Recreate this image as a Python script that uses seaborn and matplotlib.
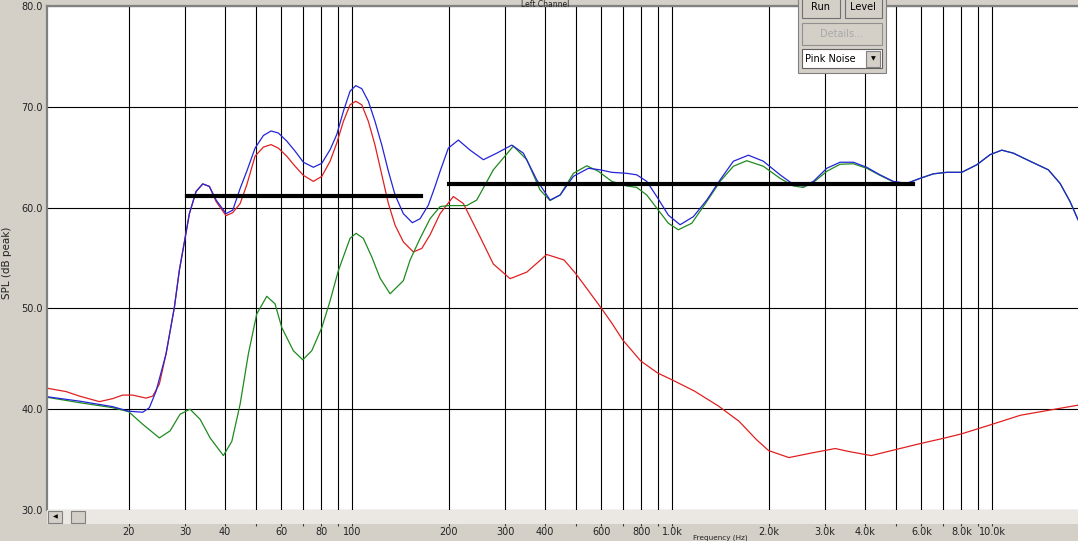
import numpy as np
import matplotlib
matplotlib.use("Agg")
import matplotlib.pyplot as plt
from matplotlib.patches import Rectangle
from matplotlib.ticker import FixedLocator, NullFormatter
import seaborn as sns

plt.rcParams['font.family'] = ['DejaVu Sans']

# measured SPL traces (Hz, dB)
blue_hz = [11.04, 14.03, 17.83, 20.0, 22.13, 23.21, 24.36, 26.17, 27.78, 28.80, 29.94, 30.95,
           32.48, 34.08, 35.74, 37.52, 40.30, 42.29, 44.59, 46.77, 49.65, 52.71, 55.70, 58.71,
           62.37, 66.22, 70.30, 75.53, 80.27, 85.20, 89.38, 93.73, 98.35, 102.47, 106.99, 112.2,
           117.7, 123.6, 129.6, 136.0, 144.3, 154.0, 162.8, 172.8, 181.3, 188.0,
           199.5, 214.4, 233.3, 256.7, 282.6, 314.9, 342.3, 376.9, 414.8, 445.9, 490.6, 546.5,
           594.4, 646.7, 720.1, 774.0, 831.8, 893.8, 971.6, 1057, 1163, 1281, 1410, 1551,
           1728, 1925, 2171, 2388, 2567, 2759, 3038, 3342, 3678, 4050, 4457, 4905, 5402,
           5943, 6540, 7203, 8025, 8940, 9836, 10700, 11630, 13120, 14960, 16280, 17490, 18520]
blue_db = [41.25, 40.8, 40.25, 39.8, 39.7, 40.15, 41.8, 45.5, 50.1, 53.8, 56.8, 59.4,
           61.6, 62.35, 62.1, 60.75, 59.4, 59.75, 61.9, 63.6, 65.9, 67.15, 67.6, 67.4,
           66.6, 65.6, 64.5, 64.0, 64.4, 65.75, 67.25, 69.55, 71.55, 72.1, 71.8, 70.55,
           68.55, 66.2, 63.6, 61.25, 59.4, 58.5, 58.9, 60.25, 62.1, 63.6,
           65.9, 66.7, 65.7, 64.75, 65.4, 66.2, 65.4, 62.75, 60.75, 61.25, 63.1, 63.9,
           63.75, 63.5, 63.4, 63.25, 62.6, 61.1, 59.25, 58.3, 59.1, 60.75, 62.75, 64.6,
           65.2, 64.6, 63.25, 62.3, 62.15, 62.6, 63.9, 64.5, 64.5, 64.0, 63.25, 62.6, 62.4,
           62.9, 63.35, 63.5, 63.5, 64.25, 65.25, 65.7, 65.4, 64.6, 63.75, 62.4, 60.6, 58.8]

green_hz = [11.04, 14.03, 17.83, 20.0, 22.13, 24.94, 26.94, 28.94, 31.10, 33.43, 35.93, 39.54,
            42.00, 44.59, 47.32, 50.26, 54.01, 57.33, 60.17, 65.4, 69.98, 74.67, 80.27, 85.20,
            90.41, 98.35, 102.7, 108.2, 115.0, 122.1, 131.2, 144.3, 151.5, 162.8, 174.9, 188.0,
            199.5, 227.8, 244.7, 275.8, 318.5,
            350.8, 386.0, 414.8, 445.9, 490.6, 540.2, 587.1, 646.7, 720.1, 774.0, 831.8, 893.8,
            971.6, 1044, 1150, 1281, 1410, 1551, 1708, 1925, 2171, 2388, 2567, 2759, 3038,
            3342, 3678, 4050, 4457, 4905, 5402, 5943, 6540, 7203, 8025, 8940, 9836, 10700,
            11630, 13120, 14960, 16280, 17490, 18520]
green_db = [41.2, 40.65, 40.15, 39.75, 38.5, 37.15, 37.85, 39.5, 40.0, 39.0, 37.15, 35.4,
            36.8, 40.5, 45.5, 49.45, 51.2, 50.45, 48.1, 45.8, 44.9, 45.8, 48.1, 50.75,
            53.75, 56.95, 57.45, 56.95, 55.1, 53.0, 51.45, 52.75, 54.8, 56.95, 58.9, 60.1,
            60.2, 60.2, 60.75, 63.75, 66.1,
            64.75, 61.75, 60.7, 61.25, 63.4, 64.15, 63.6, 62.6, 62.15, 62.0, 61.25, 59.95,
            58.45, 57.8, 58.45, 60.6, 62.6, 64.1, 64.65, 64.1, 62.9, 62.15, 62.0, 62.5, 63.6,
            64.3, 64.35, 63.9, 63.2, 62.55, 62.4, 62.9, 63.35, 63.5, 63.5, 64.25, 65.25, 65.7,
            65.4, 64.6, 63.75, 62.4, 60.6, 58.8]

red_hz = [11.04, 12.74, 14.03, 16.20, 17.83, 19.16, 20.59, 22.66, 23.78, 24.94, 26.17, 27.78,
          28.80, 29.94, 30.95, 32.48, 34.08, 35.74, 37.52, 40.30, 42.29, 44.59, 46.77, 49.65,
          52.71, 55.70, 58.71, 62.37, 66.22, 70.30, 75.53, 80.27, 85.20, 89.38, 93.73, 98.35,
          102.47, 106.99, 112.2, 117.7, 123.6, 129.6, 136.0, 144.3, 155.1, 164.8, 174.9, 188.0,
          206.8, 222.3, 250.6, 275.8, 311.1, 350.8, 405.0, 458.9,
          499.1, 545.3, 600.4, 648.1, 698.5, 795.5, 898.3, 1000, 1172, 1395, 1616, 1829,
          1998, 2313, 2716, 3228, 3564, 4183, 4997, 5970, 7007, 8007, 9979, 12240, 15680, 18520]
red_db = [42.1, 41.75, 41.3, 40.75, 41.05, 41.4, 41.4, 41.1, 41.3, 42.5, 45.5, 50.1,
          53.8, 56.8, 59.4, 61.6, 62.35, 62.1, 60.6, 59.2, 59.5, 60.4, 62.25, 65.1,
          66.0, 66.25, 65.9, 65.1, 64.1, 63.2, 62.6, 63.1, 64.6, 66.4, 68.55, 70.2,
          70.55, 70.2, 68.55, 66.2, 63.25, 60.4, 58.25, 56.6, 55.6, 55.95, 57.3, 59.4,
          61.1, 60.4, 57.1, 54.4, 52.95, 53.6, 55.35, 54.8,
          53.45, 51.8, 50.0, 48.5, 46.9, 44.8, 43.6, 42.9, 41.8, 40.3, 38.8, 37.0,
          35.9, 35.2, 35.65, 36.1, 35.8, 35.4, 36.0, 36.6, 37.1, 37.55, 38.5, 39.4, 40.0, 40.4]

# target levels
target_lo_hz = [30.4, 163.6]
target_lo_db = [61.2, 61.2]
target_hi_hz = [200.5, 5664]
target_hi_db = [62.3, 62.3]

major_ticks = [20, 30, 40, 60, 80, 100, 200, 300, 400, 600, 800, 1000, 2000, 3000, 4000,
               6000, 8000, 10000, 20000]
major_labels = ['20', '30', '40', '60', '80', '100', '200', '300', '400', '600', '800', '1.0k',
                '2.0k', '3.0k', '4.0k', '6.0k', '8.0k', '10.0k', '20.0k']
minor_ticks = [50, 70, 90, 500, 700, 900, 5000, 7000, 9000]
y_ticks = [30, 40, 50, 60, 70, 80]

W, H = 1078, 541
BG = '#d4d0c8'
fig = plt.figure(figsize=(W / 100, H / 100), dpi=100, facecolor=BG)
ax = fig.add_axes([47 / W, 1 - 510 / H, 1031 / W, 504 / H])
ax.set_facecolor('white')
ax.set_xscale('log')

sns.lineplot(x=red_hz, y=red_db, ax=ax, color='#e02020', lw=0.9, estimator=None, sort=False)
sns.lineplot(x=green_hz, y=green_db, ax=ax, color='#1e8a1e', lw=0.9, estimator=None, sort=False)
sns.lineplot(x=blue_hz, y=blue_db, ax=ax, color='#2424d8', lw=0.9, estimator=None, sort=False)
sns.lineplot(x=target_lo_hz, y=target_lo_db, ax=ax, color='black', lw=3, estimator=None)
sns.lineplot(x=target_hi_hz, y=target_hi_db, ax=ax, color='black', lw=3, estimator=None)

ax.set_xlim(11.11, 18520)
ax.set_ylim(30, 80)

ax.xaxis.set_major_locator(FixedLocator(major_ticks))
ax.xaxis.set_minor_locator(FixedLocator(minor_ticks))
ax.set_xticklabels(major_labels)
ax.xaxis.set_minor_formatter(NullFormatter())
ax.set_yticks(y_ticks)
ax.set_yticklabels([f'{v:.1f}' for v in y_ticks])

ax.grid(which='both', axis='x', color='black', lw=0.8)
ax.grid(which='major', axis='y', color='black', lw=0.8)
ax.set_axisbelow(True)

for s in ['right', 'bottom']:
    ax.spines[s].set_visible(False)
for s in ['left', 'top']:
    ax.spines[s].set_color('#808080')
    ax.spines[s].set_linewidth(1.6)
ax.spines['bottom'].set_position(('outward', 9.5))

ax.tick_params(axis='x', which='both', direction='out', length=2.2, width=0.8,
               color='#404040', pad=0.3, labelsize=7, labelcolor='#222222')
ax.tick_params(axis='y', length=0, pad=3, labelsize=7, labelcolor='#222222')
ax.set_xlabel('')
ax.set_ylabel('')


def px_rect(x0, y0, x1, y1, **kw):
    fig.add_artist(Rectangle((x0 / W, 1 - y1 / H), (x1 - x0) / W, (y1 - y0) / H,
                             transform=fig.transFigure, **kw))


def px_text(x, y, s, **kw):
    fig.text(x / W, 1 - y / H, s, **kw)


# scrollbar under the plot
px_rect(47, 510, 1078, 523.5, facecolor='#ebe8e3', edgecolor='none')
px_rect(48, 511, 62, 523, facecolor=BG, edgecolor='#808080', lw=0.8)
px_text(55, 517, '◀', fontsize=4.5, ha='center', va='center', color='black')
px_rect(70.5, 511, 84.5, 523, facecolor=BG, edgecolor='#808080', lw=0.8)

# control panel top right
px_rect(798, -2, 886, 73, facecolor=BG, edgecolor='#808080', lw=0.8)
px_rect(802, -2, 840, 18, facecolor=BG, edgecolor='#707070', lw=0.8)
px_text(821, 7, 'Run', fontsize=7, ha='center', va='center')
px_rect(844.5, -2, 882, 18, facecolor=BG, edgecolor='#707070', lw=0.8)
px_text(863, 7, 'Level', fontsize=7, ha='center', va='center')
px_rect(802, 23, 882, 45, facecolor=BG, edgecolor='#909090', lw=0.8)
px_text(842, 34, 'Details...', fontsize=7, ha='center', va='center', color='#a8a8a8')
px_rect(802, 49.5, 882, 68.5, facecolor='white', edgecolor='#606060', lw=0.8)
px_text(805, 59, 'Pink Noise', fontsize=7, ha='left', va='center')
px_rect(866, 51.5, 880, 66.5, facecolor=BG, edgecolor='#808080', lw=0.8)
px_text(873, 59, '▼', fontsize=4.5, ha='center', va='center')

# title and axis labels squeezed into the window edges
px_text(545, 0.3, 'Left Channel', fontsize=5.5, ha='center', va='top', color='#222222')
px_text(720, 540.8, 'Frequency (Hz)', fontsize=5.2, ha='center', va='bottom',
        color='#222222')
px_text(7, 263, 'SPL (dB peak)', fontsize=7.5, ha='center', va='center', rotation=90,
        color='#222222')

fig.savefig('out.png', dpi=100, facecolor=BG)
